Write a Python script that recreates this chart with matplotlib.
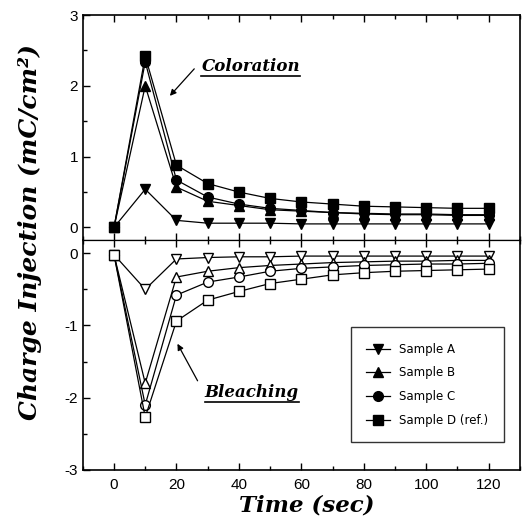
import numpy as np
import matplotlib.pyplot as plt
from matplotlib.ticker import MultipleLocator

plt.rcParams['axes.unicode_minus'] = False

# time axis (sec)
time = [0, 10, 20, 30, 40, 50, 60, 70, 80, 90, 100, 110, 120]

# coloration (top panel), filled markers
col_square = [0.0, 2.42, 0.88, 0.62, 0.50, 0.41, 0.36, 0.33, 0.30, 0.29, 0.28, 0.27, 0.27]
col_circle = [0.0, 2.34, 0.67, 0.43, 0.33, 0.27, 0.24, 0.21, 0.20, 0.19, 0.19, 0.18, 0.18]
col_tri_up = [0.0, 2.00, 0.57, 0.37, 0.31, 0.25, 0.23, 0.21, 0.19, 0.18, 0.18, 0.17, 0.17]
col_tri_dn = [0.0, 0.54, 0.10, 0.06, 0.06, 0.06, 0.05, 0.05, 0.05, 0.05, 0.05, 0.05, 0.05]

# bleaching (bottom panel), open markers
ble_square = [-0.02, -2.27, -0.94, -0.65, -0.53, -0.42, -0.36, -0.30, -0.27, -0.25, -0.24, -0.23, -0.22]
ble_circle = [-0.02, -2.10, -0.58, -0.40, -0.33, -0.25, -0.21, -0.19, -0.17, -0.16, -0.15, -0.15, -0.14]
ble_tri_up = [-0.02, -1.80, -0.33, -0.25, -0.20, -0.17, -0.15, -0.13, -0.12, -0.11, -0.11, -0.10, -0.10]
ble_tri_dn = [-0.02, -0.50, -0.08, -0.06, -0.05, -0.05, -0.04, -0.04, -0.04, -0.04, -0.04, -0.04, -0.04]

legend_labels = ["Sample A", "Sample B", "Sample C", "Sample D (ref.)"]

serif = "DejaVu Serif"
sans = "Liberation Sans"

fig = plt.figure(figsize=(5.24, 5.21), dpi=100)
ax_top = fig.add_axes([0.158, 0.539, 0.834, 0.432])
ax_bot = fig.add_axes([0.158, 0.098, 0.834, 0.441], sharex=ax_top)

top_series = [(col_tri_dn, "v"), (col_tri_up, "^"), (col_circle, "o"), (col_square, "s")]
bot_series = [(ble_tri_dn, "v"), (ble_tri_up, "^"), (ble_circle, "o"), (ble_square, "s")]

handles = []
for (ys, m), lab in zip(top_series, legend_labels):
    h, = ax_top.plot(time, ys, "-", marker=m, color="black", lw=0.9,
                     ms=7, mfc="black", mec="black", label=lab)
    handles.append(h)
for ys, m in bot_series:
    ax_bot.plot(time, ys, "-", marker=m, color="black", lw=0.9,
                ms=7, mfc="white", mec="black", mew=1.0)

ax_top.set_xlim(-10, 130)
ax_top.set_ylim(-0.18, 3)
ax_bot.set_ylim(-3, 0.18)

for ax in (ax_top, ax_bot):
    ax.xaxis.set_major_locator(MultipleLocator(20))
    ax.xaxis.set_minor_locator(MultipleLocator(10))
    ax.yaxis.set_major_locator(MultipleLocator(1))
    ax.yaxis.set_minor_locator(MultipleLocator(0.5))
    ax.tick_params(which="both", direction="in", top=True, bottom=True,
                   left=True, right=False, width=1.0)
    ax.tick_params(which="major", length=5)
    ax.tick_params(which="minor", length=3)
    for sp in ax.spines.values():
        sp.set_linewidth(1.2)

ax_top.tick_params(labelbottom=False)
ax_top.spines["bottom"].set_linewidth(0.9)
ax_bot.spines["top"].set_linewidth(0.9)
ax_bot.tick_params(axis="x", pad=6)
ax_top.set_yticks([0, 1, 2, 3])
ax_bot.set_yticks([-3, -2, -1, 0])
for ax in (ax_top, ax_bot):
    for lbl in ax.get_yticklabels() + ax.get_xticklabels():
        lbl.set_fontfamily(sans)
        lbl.set_fontsize(11)

# annotations
ax_top.annotate("", xy=(17.3, 1.83), xytext=(26.3, 2.27),
                arrowprops=dict(arrowstyle="-|>", color="black", lw=0.9,
                                mutation_scale=9))
t1 = ax_top.text(28, 2.27, "Coloration", fontfamily=serif, fontsize=12,
                 fontweight="bold", fontstyle="italic", va="center", ha="left")

ax_bot.annotate("", xy=(19.9, -1.22), xytext=(27.2, -1.8),
                arrowprops=dict(arrowstyle="-|>", color="black", lw=0.9,
                                mutation_scale=9))
t2 = ax_bot.text(29, -1.93, "Bleaching", fontfamily=serif, fontsize=12,
                 fontweight="bold", fontstyle="italic", va="center", ha="left")

leg = ax_bot.legend(handles=handles, loc="lower right",
                    bbox_to_anchor=(0.977, 0.096), frameon=True, fancybox=False,
                    edgecolor="black", fontsize=8.5, handlelength=2.0,
                    borderpad=1.3, labelspacing=0.9)
leg.get_frame().set_linewidth(1.0)

fig.text(0.058, 0.555, "Charge Injection (mC/cm²)", rotation=90,
         fontfamily=serif, fontsize=18, fontweight="bold", fontstyle="italic",
         ha="center", va="center")
fig.text(0.586, 0.030, "Time (sec)", fontfamily=serif, fontsize=16.5,
         fontweight="bold", fontstyle="italic", ha="center", va="center")

# underline the two annotation words
fig.canvas.draw()
r = fig.canvas.get_renderer()
for ax, t in ((ax_top, t1), (ax_bot, t2)):
    bb = t.get_window_extent(r)
    inv = ax.transData.inverted()
    (x0, y0), (x1, _) = inv.transform([(bb.x0, bb.y0 - 1), (bb.x1, bb.y0 - 1)])
    ax.plot([x0, x1], [y0, y0], color="black", lw=1.2)

fig.savefig("out.png", dpi=100)
